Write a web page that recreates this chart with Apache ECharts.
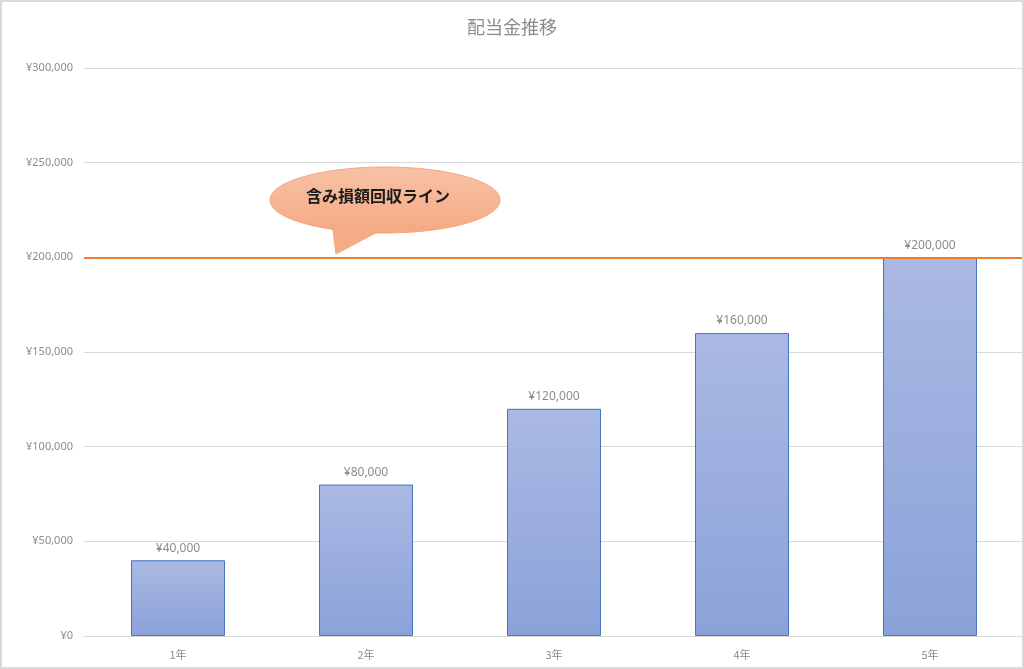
<!DOCTYPE html>
<html>
<head>
<meta charset="utf-8">
<script src="https://cdn.jsdelivr.net/npm/echarts@6/dist/echarts.min.js"></script>
<style>
html, body { margin: 0; padding: 0; background: #fff; }
#wrap { position: relative; width: 1024px; height: 669px; }
#chart { width: 1024px; height: 669px; }
#frame { position: absolute; left: 0; top: 0; width: 1024px; height: 669px; box-sizing: border-box; border: 2px solid #d9d9d9; pointer-events: none; }
</style>
</head>
<body>
<div id="wrap">
	<div id="chart"></div>
	<div id="frame"></div>
</div>
<script>
// 配当金データ
var categories = ['1年', '2年', '3年', '4年', '5年'];
var dividends = [40000, 80000, 120000, 160000, 200000];
var recoveryLine = 200000;
var yTicks = [0, 50000, 100000, 150000, 200000, 250000, 300000];

var fmtYen = function(v) {
	return '¥' + Number(v).toLocaleString('en-US');
};

var myChart = echarts.init(document.getElementById('chart'));

var option = {
	animation: false,
	title: {
		text: '配当金推移',
		left: 'center',
		top: 13,
		textStyle: {
			color: '#8c8c8c',
			fontSize: 18,
			fontWeight: 'normal',
			fontFamily: 'Noto Sans CJK JP'
		}
	},
	grid: {
		left: 84,
		right: 0,
		top: 68,
		bottom: 33
	},
	xAxis: {
		type: 'category',
		data: categories,
		axisLine: { lineStyle: { color: '#d9d9d9' } },
		axisTick: { show: false },
		axisLabel: {
			color: '#8c8c8c',
			fontSize: 11,
			margin: 13,
			fontFamily: 'Noto Sans CJK JP'
		}
	},
	yAxis: {
		type: 'value',
		min: yTicks[0],
		max: yTicks[yTicks.length - 1],
		interval: 50000,
		axisLine: { show: false },
		axisTick: { show: false },
		splitLine: { lineStyle: { color: '#d9d9d9' } },
		axisLabel: {
			color: '#8c8c8c',
			fontSize: 11,
			margin: 11,
			fontFamily: 'Noto Sans',
			formatter: fmtYen
		}
	},
	series: [{
		type: 'bar',
		data: dividends,
		barWidth: '50%',
		itemStyle: {
			color: new echarts.graphic.LinearGradient(0, 0, 0, 1, [
				{ offset: 0, color: '#aab9e3' },
				{ offset: 1, color: '#8ba2d9' }
			]),
			borderColor: '#4472c4',
			borderWidth: 1
		},
		label: {
			show: true,
			position: 'top',
			distance: 6,
			color: '#8c8c8c',
			fontSize: 12,
			fontFamily: 'Noto Sans',
			formatter: function(p) { return fmtYen(p.value); }
		},
		markLine: {
			silent: true,
			symbol: 'none',
			label: { show: false },
			lineStyle: { color: '#ed7d31', width: 2, type: 'solid' },
			data: [{ yAxis: recoveryLine }]
		}
	}],
	graphic: [{
		type: 'polygon',
		shape: { points: [[332, 222], [336, 254], [385, 228]] },
		style: { fill: '#f6b08f', stroke: '#f4a57f', lineWidth: 1 },
		z: 10
	}, {
		type: 'ellipse',
		shape: { cx: 385, cy: 200, rx: 115, ry: 33 },
		style: {
			fill: new echarts.graphic.LinearGradient(0, 0, 0, 1, [
				{ offset: 0, color: '#f8c2a6' },
				{ offset: 1, color: '#f4a982' }
			]),
			stroke: '#f4a57f',
			lineWidth: 1
		},
		z: 11
	}, {
		type: 'polygon',
		shape: { points: [[333, 224], [336, 252], [383, 229]] },
		style: { fill: '#f5ab86' },
		z: 12
	}, {
		type: 'text',
		x: 378,
		y: 196,
		style: {
			text: '含み損額回収ライン',
			fill: '#1a1a1a',
			font: 'bold 16px "Noto Sans CJK JP"',
			align: 'center',
			verticalAlign: 'middle'
		},
		z: 13
	}]
};

myChart.setOption(option);
window.onresize = function() {
	myChart.resize();
};
</script>
</body>
</html>
